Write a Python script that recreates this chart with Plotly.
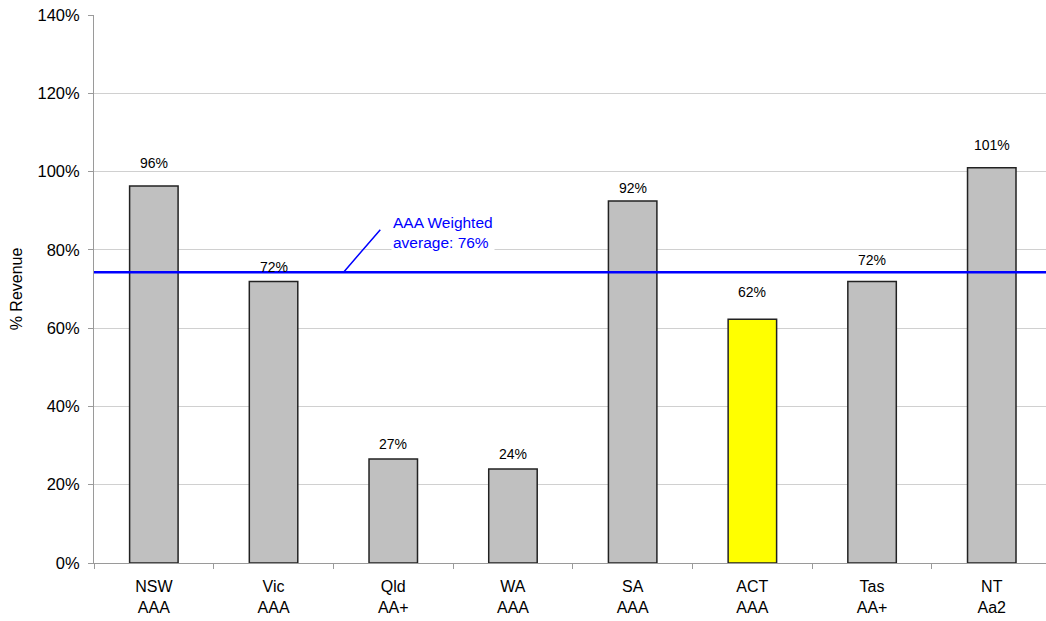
import plotly.graph_objects as go

# ---- data ----
states = ["NSW", "Vic", "Qld", "WA", "SA", "ACT", "Tas", "NT"]
ratings = ["AAA", "AAA", "AA+", "AAA", "AAA", "AAA", "AA+", "Aa2"]
values = [96.3, 71.9, 26.6, 24.0, 92.5, 62.3, 71.9, 101.0]
value_labels = ["96%", "72%", "27%", "24%", "92%", "62%", "72%", "101%"]
highlight = "ACT"
avg_line_value = 74.3
avg_label = "AAA Weighted<br>average: 76%"
y_ticks = [0, 20, 40, 60, 80, 100, 120, 140]
y_tick_text = [f"{t}%" for t in y_ticks]

# ---- styling ----
label_shift = [23, 15, 15, 15, 13, 27, 22, 23]   # px gap of each value label above its bar
FONT = "Liberation Sans, Arial, sans-serif"
categories = [f"{s}<br>{r}" for s, r in zip(states, ratings)]
colors = ["#FFFF00" if s == highlight else "#C0C0C0" for s in states]

fig = go.Figure()
fig.add_trace(go.Bar(
    x=categories, y=values, width=0.405,
    marker=dict(color=colors, line=dict(color="#222222", width=1.5)),
    hoverinfo="skip", showlegend=False,
))

annotations = []
for c, v, t, s in zip(categories, values, value_labels, label_shift):
    annotations.append(dict(x=c, y=v, text=t, showarrow=False, yanchor="middle",
                            yshift=s, font=dict(family=FONT, size=14, color="#000000")))

# weighted-average label and leader line
annotations.append(dict(x=1.985, y=avg_line_value + 10.1, xref="x", yref="y", text=avg_label,
                        showarrow=False, xanchor="left", yanchor="middle", align="left",
                        bgcolor="#FFFFFF", borderpad=1,
                        font=dict(family=FONT, size=15.5, color="#0000FF")))
annotations.append(dict(x=1.585, y=avg_line_value, xref="x", yref="y", text="",
                        showarrow=True, arrowhead=0, arrowwidth=1.5, arrowcolor="#0000FF",
                        ax=38, ay=-44, standoff=0, startstandoff=0))

fig.update_layout(
    width=1046, height=621,
    margin=dict(l=94, r=0, t=15, b=58),
    paper_bgcolor="#FFFFFF", plot_bgcolor="#FFFFFF",
    font=dict(family=FONT, size=16, color="#000000"),
    annotations=annotations,
    shapes=[dict(type="line", xref="paper", x0=0, x1=1, yref="y",
                 y0=avg_line_value, y1=avg_line_value,
                 line=dict(color="#0000FF", width=2.5), layer="above")],
    bargap=0.6,
)
fig.update_xaxes(
    type="category", range=[-0.5, 7.453],
    showline=True, linecolor="#9A9A9A", linewidth=1,
    ticks="outside", tickson="boundaries", ticklen=5, tickcolor="#9A9A9A",
    showgrid=False, tickfont=dict(family=FONT, size=16), ticklabelstandoff=9,
)
fig.update_yaxes(
    range=[0, 140], tickvals=y_ticks, ticktext=y_tick_text,
    showline=True, linecolor="#9A9A9A", linewidth=1,
    ticks="outside", ticklen=5, tickcolor="#9A9A9A",
    showgrid=True, gridcolor="#D0D0D0", gridwidth=1, zeroline=False,
    tickfont=dict(family=FONT, size=16.5), ticklabelstandoff=5,
    title=dict(text="% Revenue", font=dict(family=FONT, size=16), standoff=10),
)

fig.write_html("out.html")
